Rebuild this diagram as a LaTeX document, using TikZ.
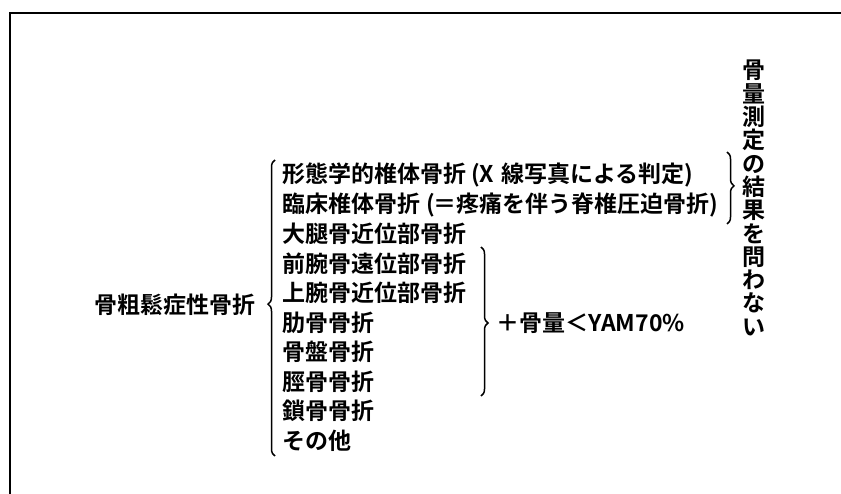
\documentclass[tikz,border=0pt]{standalone}
\usepackage{fontspec}
\newfontfamily\jp{Noto Sans CJK JP}[BoldFont={Noto Sans CJK JP Bold}]
\usetikzlibrary{decorations.pathreplacing}
\tikzset{
  item/.style={anchor=west, inner sep=0pt, font=\jp\bfseries\fontsize{23}{29}\selectfont},
  brc/.style={decorate, decoration={brace, amplitude=7pt, aspect=#1}, line width=1.5pt},
  brc/.default=0.5,
  frame/.style={line width=2pt}
}
\begin{document}
\begin{tikzpicture}[x=1pt, y=-1pt]
\useasboundingbox (0,0) rectangle (841,494);
% frame
\coordinate (ftr) at (845,13.5);
\coordinate (ftl) at (9.5,13.5);
\coordinate (fbl) at (9.5,498);
\draw[frame] (ftr) -- (ftl) -- (fbl);
% main label
\node[item] (main) at (94,305) {骨粗鬆症性骨折};
% items
\node[item] (i0) at (282,175) {形態学的椎体骨折\kern5pt(X\kern7pt 線写真による判定)};
\node[item] (i1) at (282,204.5) {臨床椎体骨折\kern6pt(\kern-1pt＝疼痛を伴う脊椎圧迫骨折)};
\node[item] (i2) at (282,234) {大腿骨近位部骨折};
\node[item] (i3) at (282,263.5) {前腕骨遠位部骨折};
\node[item] (i4) at (282,293) {上腕骨近位部骨折};
\node[item] (i5) at (282,322.5) {肋骨骨折};
\node[item] (i6) at (282,352) {骨盤骨折};
\node[item] (i7) at (282,381.5) {脛骨骨折};
\node[item] (i8) at (282,411) {鎖骨骨折};
\node[item] (i9) at (282,440.5) {その他};
% braces
\coordinate (lbB) at (275,456);
\coordinate (lbT) at (275,160);
\draw[brc=0.513] (lbB) -- (lbT);
\coordinate (rbT) at (481,247);
\coordinate (rbB) at (481,396);
\draw[brc=0.51] (rbT) -- (rbB);
\coordinate (tbT) at (727,152);
\coordinate (tbB) at (727,224);
\draw[brc=0.47] (tbT) -- (tbB);
% YAM label
\node[item] (yam) at (496,323) {＋骨量＜YAM70\%};
% vertical text
\node[inner sep=0pt, align=center, font=\jp\bfseries\fontsize{23}{23.3}\selectfont] (vt) at (754,198)
  {骨\\量\\測\\定\\の\\結\\果\\を\\問\\わ\\な\\い};
\end{tikzpicture}
\end{document}
